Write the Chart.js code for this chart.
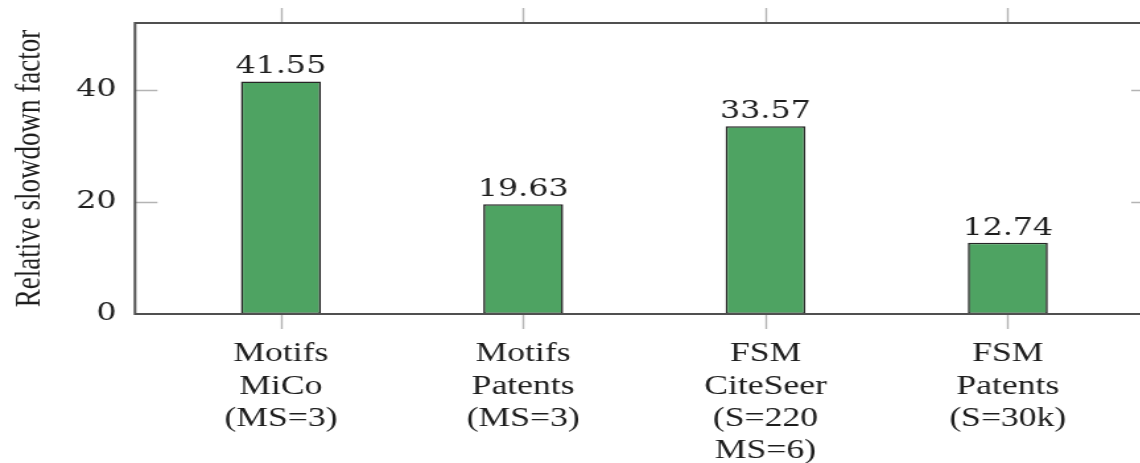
<!DOCTYPE html>
<html>
<head>
<meta charset="utf-8">
<script src="https://cdn.jsdelivr.net/npm/chart.js@4/dist/chart.umd.min.js"></script>
<style>
  html, body { margin: 0; padding: 0; background: #fff; overflow: hidden; }
  #wrap { width: 1140px; height: 463px; overflow: hidden; position: relative; }
  #chart { position: absolute; left: 0; top: 0; transform: scaleX(1.32); transform-origin: 0 0; }
</style>
</head>
<body>
<div id="wrap"><canvas id="chart" width="890" height="463"></canvas></div>
<script>
// Benchmark cases (one label line per array entry)
const categories = [
  ['Motifs', 'MiCo', '(MS=3)'],
  ['Motifs', 'Patents', '(MS=3)'],
  ['FSM', 'CiteSeer', '(S=220', 'MS=6)'],
  ['FSM', 'Patents', '(S=30k)']
];
// Relative slowdown factor per case
const slowdown = [41.55, 19.63, 33.57, 12.74];
const yTicks = [0, 20, 40];
const yMax = 52;

const numFont = { family: 'DejaVu Serif', size: 24 };
const textFont = { family: 'Liberation Serif', size: 27, lineHeight: 1.2 };
const ink = '#1e1e1e';

// Frame, pgfplots-style tick marks and value labels
const decorations = {
  id: 'decorations',
  afterDatasetsDraw(chart) {
    const { ctx, chartArea: a, scales: { x, y } } = chart;
    ctx.save();
    // light tick marks
    ctx.strokeStyle = '#b4b4b4';
    ctx.lineWidth = 1.4;
    ctx.beginPath();
    categories.forEach((_, i) => {
      const px = Math.round(x.getPixelForValue(i)) + 0.5;
      ctx.moveTo(px, a.top - 15); ctx.lineTo(px, a.top);
      ctx.moveTo(px, a.bottom); ctx.lineTo(px, a.bottom + 15);
    });
    yTicks.forEach(v => {
      if (v === 0) return;
      const py = Math.round(y.getPixelForValue(v)) + 0.5;
      ctx.moveTo(a.left, py); ctx.lineTo(a.left + 17, py);
      ctx.moveTo(a.right - 17, py); ctx.lineTo(a.right, py);
    });
    ctx.stroke();
    // axis frame
    ctx.strokeStyle = '#505050';
    ctx.lineWidth = 2;
    ctx.strokeRect(a.left, a.top, a.right - a.left, a.bottom - a.top);
    // value labels above the bars
    ctx.fillStyle = ink;
    ctx.font = `${numFont.size}px "${numFont.family}"`;
    ctx.textAlign = 'center';
    ctx.textBaseline = 'alphabetic';
    chart.getDatasetMeta(0).data.forEach((bar, i) => {
      ctx.fillText(slowdown[i].toFixed(2), bar.x, bar.y - 8);
    });
    ctx.restore();
  }
};

new Chart(document.getElementById('chart'), {
  type: 'bar',
  data: {
    datasets: [{
      data: slowdown.map((v, i) => ({ x: i, y: v })),
      backgroundColor: '#4ea362',
      borderColor: '#262626',
      borderWidth: 1.6,
      borderSkipped: false,
      barPercentage: 0.33,
      categoryPercentage: 1
    }]
  },
  options: {
    responsive: false,
    devicePixelRatio: 1,
    animation: false,
    events: [],
    layout: { padding: { top: 23, right: 16, left: 0, bottom: 0 } },
    plugins: { legend: { display: false }, tooltip: { enabled: false } },
    scales: {
      x: {
        type: 'linear',
        offset: false,
        min: -0.602,
        max: categories.length - 1 + 0.602,
        grid: { display: false, drawTicks: false, offset: false },
        border: { display: false },
        afterBuildTicks: axis => { axis.ticks = categories.map((_, i) => ({ value: i })); },
        afterFit: axis => { axis.height = 149; axis.paddingLeft = 0; axis.paddingRight = 0; },
        ticks: {
          autoSkip: false,
          maxRotation: 0,
          padding: 24,
          color: ink,
          font: textFont,
          callback: v => categories[v]
        }
      },
      y: {
        min: 0,
        max: yMax,
        grid: { display: false, drawTicks: false },
        border: { display: false },
        afterBuildTicks: axis => { axis.ticks = yTicks.map(v => ({ value: v })); },
        afterFit: axis => { axis.width = 102.3; axis.paddingTop = 0; axis.paddingBottom = 0; },
        ticks: { padding: 14, color: ink, font: numFont },
        title: {
          display: true,
          text: 'Relative slowdown factor',
          color: ink,
          font: textFont,
          padding: { top: 6.5, bottom: 0 }
        }
      }
    }
  },
  plugins: [decorations]
});
</script>
</body>
</html>
